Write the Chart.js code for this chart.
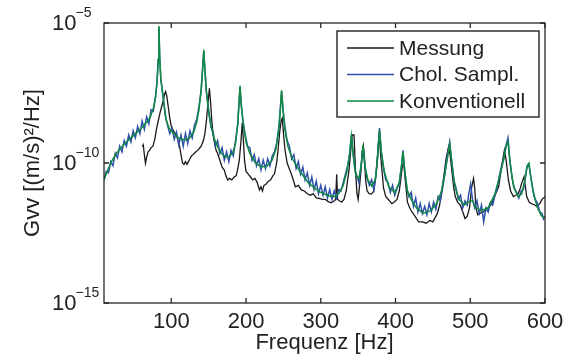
<!DOCTYPE html>
<html>
<head>
<meta charset="utf-8">
<script src="https://cdn.jsdelivr.net/npm/chart.js@4.4.1/dist/chart.umd.min.js"></script>
<style>
  html, body { margin: 0; padding: 0; background: #fff; }
  #wrap { width: 570px; height: 360px; }
</style>
</head>
<body>
<div id="wrap"><canvas id="chart-psd" width="570" height="360"></canvas></div>
<script>
var xTicks = [100, 200, 300, 400, 500, 600];
var yTickExp = [-15, -10, -5];
var seriesNames = ["Messung", "Chol. Sampl.", "Konventionell"];

// [Frequenz in Hz, log10(Gvv)]
var messung = [
  [61.3, -9.42], [62.5, -9.35], [64, -9.7], [65.5, -10.01], [67, -9.8], [69, -9.6], [71, -9.55],
  [73, -9.45], [75.5, -9.4], [78, -9.15], [80, -8.82], [82.5, -8.5], [84.8, -8.23], [87, -8.0],
  [89.3, -7.77], [91, -7.55], [92.4, -7.45], [94, -7.6], [96, -8.0], [98, -8.4], [100, -8.7],
  [104, -8.9], [107, -9.0], [109, -9.2], [111, -9.38], [113, -9.7], [115, -10.0], [117, -10.05],
  [119, -9.95], [121, -10.05], [123, -9.95], [125, -9.85], [127, -9.75], [129, -9.7], [131, -9.65],
  [133, -9.6], [135, -9.55], [137, -9.5], [140, -9.4], [143, -9.2], [145, -8.95], [147, -8.5],
  [149, -7.9], [151, -7.33], [152.5, -7.8], [154, -8.4], [156, -9.0], [158, -9.3], [160, -9.55],
  [162, -9.65], [165, -9.9], [168, -10.15], [171, -10.25], [173, -10.45], [175.6, -10.61],
  [178, -10.55], [181, -10.6], [184, -10.5], [187, -10.45], [189, -10.2], [191, -9.9], [193, -9.3],
  [195, -8.56], [196.5, -9.2], [198, -9.9], [200, -10.3], [203, -10.4], [206, -10.5], [209, -10.6],
  [212, -10.55], [215, -10.7], [218, -10.96], [220, -10.85], [222, -11.0], [224, -10.8], [227, -10.75],
  [230, -10.65], [233, -10.6], [236, -10.45], [238, -10.4], [241, -10.0], [243, -9.5], [245, -8.9],
  [247, -8.5], [248.5, -8.4], [250, -8.9], [252, -9.5], [255, -10.0], [258.6, -10.25], [262, -10.5],
  [266, -10.85], [270, -10.8], [274, -10.96], [278, -11.0], [282, -11.1], [286, -11.15], [290, -11.1],
  [294, -11.25], [298, -11.26], [302, -11.3], [306, -11.3], [310, -11.38], [314, -11.42], [318, -11.35],
  [320, -11.3], [321.3, -10.4], [322.5, -11.3], [325, -11.35], [328, -11.4], [331, -11.3], [334, -11.0],
  [336, -10.6], [338, -10.2], [340, -9.6], [342, -9.0], [344.5, -9.0], [346.5, -10.3], [348.5, -11.1],
  [350, -11.3], [352, -10.8], [354, -10.2], [355.5, -9.6], [357, -9.38], [358.5, -9.8], [360, -10.6],
  [362, -11.0], [365, -11.1], [368, -11.1], [371, -11.0], [374, -10.4], [376, -9.7], [377.7, -9.1],
  [379, -9.3], [381, -10.0], [384, -10.9], [387, -11.2], [391, -11.32], [395, -11.45], [398, -11.4],
  [402, -11.3], [405, -11.0], [407, -10.6], [409, -10.13], [411, -10.0], [413, -10.6], [416, -11.4],
  [419, -11.6], [422, -11.75], [426, -11.9], [431, -12.1], [436, -12.1], [441, -12.15], [446, -12.05],
  [450, -12.1], [453, -11.95], [456, -11.8], [459, -11.5], [462, -11.0], [465, -10.4], [468, -9.8],
  [471, -9.42], [473, -9.7], [475.5, -10.3], [478, -10.9], [480, -11.2], [483, -11.4], [486.6, -11.5],
  [490, -11.75], [493, -11.98], [496, -11.9], [499, -11.6], [502, -10.85], [504.4, -10.55], [506, -10.9],
  [507.6, -11.6], [510, -11.85], [513, -11.8], [517, -11.75], [520, -11.7], [524, -11.6], [529, -11.45],
  [534, -11.1], [538, -10.85], [541, -10.3], [544, -9.8], [545.7, -9.54], [548, -9.9], [551, -10.6],
  [554, -11.0], [557.7, -11.2], [561, -11.15], [564, -11.1], [567, -10.9], [569, -10.7], [572, -10.49],
  [574, -10.9], [575.5, -11.2], [579, -11.4], [582, -11.45], [586, -11.5], [589, -11.55], [593, -11.45],
  [596, -11.3], [600, -11.2]
];

var cholSampl = [
  [10, -10.6], [13, -10.3], [16, -10.35], [19, -9.95], [22, -10.1], [25, -9.65], [28, -9.82],
  [31, -9.4], [34, -9.6], [37, -9.2], [40, -9.4], [43, -9.0], [46, -9.25], [49, -8.85], [52, -9.1],
  [55, -8.7], [58, -8.95], [61, -8.5], [64, -8.8], [67, -8.35], [70, -8.6], [73, -8.1], [76, -8.15],
  [79, -7.6], [81, -7.1], [82.5, -6.3], [83.5, -5.15], [84.5, -6.2], [86, -7.0], [89, -7.6], [92, -8.3],
  [95, -8.65], [98, -8.95], [101, -8.75], [104, -9.15], [107, -8.9], [110, -9.35], [113, -9.0],
  [116, -9.4], [119, -8.95], [122, -9.3], [125, -8.85], [128, -9.1], [131, -8.65], [134, -8.45],
  [137, -8.0], [140, -7.4], [142, -6.6], [143.5, -6.0], [145, -6.7], [147, -7.45], [150, -8.1],
  [153, -8.7], [156, -8.9], [159, -9.4], [162, -9.2], [165, -9.65], [168, -9.45], [171, -9.9],
  [174, -9.6], [177, -9.95], [180, -9.55], [183, -9.75], [186, -9.2], [189, -8.6], [190.5, -7.9],
  [192, -7.3], [193.5, -7.9], [196, -8.5], [199, -9.0], [202, -9.4], [205, -9.45], [208, -9.9],
  [211, -9.7], [214, -10.1], [217, -9.85], [220, -10.25], [223, -9.9], [226, -10.2], [229, -9.85],
  [232, -10.1], [235, -9.75], [238, -9.6], [241, -9.3], [244, -8.7], [246, -8.0], [247.6, -7.45],
  [249.5, -8.1], [252, -8.7], [255, -9.2], [258, -9.4], [261, -9.85], [264, -9.7], [267, -10.2],
  [270, -9.95], [273, -10.4], [276, -10.15], [279, -10.6], [282, -10.35], [285, -10.8], [288, -10.5],
  [291, -10.95], [294, -10.65], [297, -11.1], [300, -10.8], [303, -11.15], [306, -10.85], [309, -11.25],
  [312, -10.95], [315, -11.3], [318, -11.0], [321, -11.25], [324, -10.95], [327, -11.0], [330, -10.7],
  [333, -10.4], [336, -10.1], [338.5, -9.7], [341, -9.0], [343.5, -9.75], [346, -10.3], [349, -10.5],
  [351, -10.7], [354, -10.1], [356.5, -9.4], [359, -10.1], [362, -10.55], [365, -10.8], [368, -10.6],
  [371, -10.95], [374, -10.4], [376, -9.8], [378.6, -8.75], [381, -9.6], [384, -10.2], [387, -10.6],
  [390, -10.7], [393, -11.05], [396, -10.8], [399, -11.15], [402, -10.9], [405, -10.75], [408, -10.1],
  [410, -9.55], [412, -10.2], [415, -10.9], [418, -11.2], [421, -11.05], [424, -11.55], [427, -11.25],
  [430, -11.75], [433, -11.45], [436, -11.8], [439, -11.55], [442, -11.85], [445, -11.45], [448, -11.75],
  [451, -11.4], [454, -11.65], [457, -11.2], [460, -11.35], [463, -10.9], [466, -10.4], [469, -9.8],
  [472.5, -9.25], [475, -9.9], [478, -10.6], [481, -10.9], [484, -11.3], [487, -11.15], [490, -11.6],
  [493, -11.35], [496, -11.5], [498, -11.1], [500.5, -10.75], [503, -11.3], [506, -11.6], [509, -11.35],
  [512, -11.8], [515, -11.5], [518, -12.1], [521, -11.6], [524, -11.75], [527, -11.4], [530, -11.5],
  [533, -11.15], [536, -10.9], [539, -10.45], [542, -10.1], [545, -9.8], [548, -9.35], [550.5, -9.1],
  [553, -9.9], [556, -10.55], [559, -10.9], [562, -11.05], [565, -11.25], [568, -11.0], [571, -10.95],
  [574, -10.5], [576, -10.15], [578.5, -10.05], [581, -10.5], [584, -11.0], [587, -11.3], [590, -11.45],
  [593, -11.75], [596, -11.8], [598, -12.0], [600, -11.9]
];

var konventionell = [
  [10, -10.61], [15, -10.25], [20, -9.95], [26, -9.68], [32, -9.47], [40, -9.25], [48, -9.06],
  [55, -8.88], [62, -8.7], [68, -8.52], [72, -8.35], [76, -8.05], [79, -7.65], [81, -7.1], [82.5, -6.3],
  [83.5, -5.11], [84.5, -6.2], [86, -7.0], [89, -7.63], [93, -8.45], [97, -8.75], [100, -8.85],
  [105, -9.0], [111, -9.12], [118, -9.18], [124, -9.12], [130, -8.9], [134, -8.55], [137, -8.1],
  [140, -7.4], [142, -6.6], [143.5, -5.96], [145, -6.7], [147, -7.45], [150, -8.2], [153, -8.65],
  [157, -9.1], [162, -9.42], [167, -9.65], [172, -9.78], [177, -9.78], [182, -9.65], [186, -9.3],
  [189, -8.6], [190.5, -7.9], [192, -7.24], [193.5, -7.9], [196, -8.55], [200, -9.25], [205, -9.65],
  [212, -9.98], [220, -10.13], [228, -10.12], [235, -9.9], [240, -9.5], [244, -8.8], [246, -8.1],
  [247.6, -7.4], [249.5, -8.1], [252, -8.8], [256, -9.4], [262, -9.85], [271, -10.25], [284, -10.73],
  [298, -11.02], [310, -11.17], [318, -11.2], [324, -11.1], [330, -10.8], [335, -10.3], [338.5, -9.7],
  [341, -9.04], [343.5, -9.7], [347, -10.45], [351, -10.55], [354, -10.1], [356.5, -9.36], [359, -10.1],
  [363, -10.6], [368, -10.82], [373, -10.6], [376, -9.8], [378.6, -8.82], [381, -9.6], [385, -10.3],
  [391, -10.85], [399, -11.05], [405, -10.7], [408, -10.1], [410, -9.6], [412, -10.2], [416, -11.0],
  [422, -11.35], [428, -11.6], [437, -11.8], [447, -11.7], [455, -11.45], [461, -11.05], [466, -10.4],
  [470, -9.75], [472.5, -9.32], [475, -9.9], [479, -10.8], [485, -11.3], [492, -11.5], [498, -11.38],
  [503, -11.35], [508, -11.6], [515, -11.7], [524, -11.6], [533, -11.1], [540, -10.4], [545, -9.85],
  [548, -9.4], [550.5, -9.24], [553, -9.95], [558, -10.85], [564, -11.2], [569, -11.1], [573, -10.6],
  [576, -10.1], [578.5, -10.01], [581, -10.5], [585, -11.15], [590, -11.6], [595, -11.88], [600, -11.95]
];

var seriesColors = ["#1a1a1a", "#2d52a8", "#0f8a40"];
var fontName = "'Liberation Sans', Arial, sans-serif";
var axisColor = "#262626";
var textColor = "#222222";

function toPoints(arr) {
  return arr.map(function (p) {
    return { x: p[0], y: Math.pow(10, p[1]) };
  });
}

// box, inward ticks, 10^x labels and legend (MATLAB look)
var framePlugin = {
  id: "frame",
  afterDraw: function (chart) {
    var c = chart.ctx;
    var a = chart.chartArea;
    var xs = chart.scales.x;
    var ys = chart.scales.y;
    c.save();
    c.strokeStyle = axisColor;
    c.lineWidth = 1.3;
    c.strokeRect(a.left, a.top, a.right - a.left, a.bottom - a.top);

    c.beginPath();
    xTicks.forEach(function (v) {
      var px = xs.getPixelForValue(v);
      c.moveTo(px, a.bottom);
      c.lineTo(px, a.bottom - 5);
      c.moveTo(px, a.top);
      c.lineTo(px, a.top + 5);
    });
    yTickExp.forEach(function (e) {
      var py = ys.getPixelForValue(Math.pow(10, e));
      c.moveTo(a.left, py);
      c.lineTo(a.left + 5, py);
      c.moveTo(a.right, py);
      c.lineTo(a.right - 5, py);
    });
    c.stroke();

    c.fillStyle = textColor;
    c.textBaseline = "middle";
    c.textAlign = "left";
    yTickExp.forEach(function (e) {
      var py = ys.getPixelForValue(Math.pow(10, e));
      c.font = "22px " + fontName;
      c.fillText("10", 52, py + 1);
      var w = c.measureText("10").width;
      c.font = "14px " + fontName;
      c.fillText("\u2212" + Math.abs(e), 52 + w - 1, py - 10);
    });

    // legend
    var lx = 337, ly = 31, lw = 202, lh = 86;
    c.fillStyle = "#ffffff";
    c.fillRect(lx, ly, lw, lh);
    c.strokeStyle = "#111111";
    c.lineWidth = 1.3;
    c.strokeRect(lx, ly, lw, lh);
    chart.data.datasets.forEach(function (ds, i) {
      var ry = 48 + i * 26.5;
      c.strokeStyle = ds.borderColor;
      c.lineWidth = 1.5;
      c.beginPath();
      c.moveTo(347, ry);
      c.lineTo(394, ry);
      c.stroke();
      c.fillStyle = textColor;
      c.font = "21px " + fontName;
      c.fillText(ds.label, 399, ry + 1);
    });
    c.restore();
  }
};

var ctx = document.getElementById("chart-psd").getContext("2d");

new Chart(ctx, {
  type: "line",
  data: {
    datasets: [
      {
        label: seriesNames[0],
        data: toPoints(messung),
        borderColor: seriesColors[0],
        borderWidth: 1.3,
        pointRadius: 0,
        tension: 0,
        order: 2,
      },
      {
        label: seriesNames[1],
        data: toPoints(cholSampl),
        borderColor: seriesColors[1],
        borderWidth: 1.5,
        pointRadius: 0,
        tension: 0,
        order: 1,
      },
      {
        label: seriesNames[2],
        data: toPoints(konventionell),
        borderColor: seriesColors[2],
        borderWidth: 1.5,
        pointRadius: 0,
        tension: 0,
        order: 0,
      },
    ],
  },
  options: {
    responsive: false,
    animation: false,
    layout: {
      padding: { top: 23, right: 25, left: 0, bottom: 0 },
    },
    plugins: {
      legend: { display: false },
      tooltip: { enabled: false },
    },
    scales: {
      x: {
        type: "linear",
        min: 10,
        max: 600,
        afterBuildTicks: function (scale) {
          scale.ticks = xTicks.map(function (v) { return { value: v }; });
        },
        afterFit: function (scale) {
          scale.height = 57;
        },
        grid: { display: false, drawTicks: false },
        border: { display: false },
        ticks: {
          color: textColor,
          padding: 6,
          maxRotation: 0,
          autoSkip: false,
          font: { size: 22, family: fontName },
        },
        title: {
          display: true,
          text: "Frequenz [Hz]",
          color: textColor,
          font: { size: 22, family: fontName },
          padding: { top: 0, bottom: 4 },
        },
      },
      y: {
        type: "logarithmic",
        min: 1e-15,
        max: 1e-5,
        afterBuildTicks: function (scale) {
          scale.ticks = yTickExp.map(function (e) { return { value: Math.pow(10, e) }; });
        },
        afterFit: function (scale) {
          scale.width = 104;
        },
        grid: { display: false, drawTicks: false },
        border: { display: false },
        ticks: { display: false },
        title: {
          display: true,
          text: "Gvv [(m/s)\u00b2/Hz]",
          color: textColor,
          font: { size: 22, family: fontName },
          padding: { top: 20, bottom: 0 },
        },
      },
    },
  },
  plugins: [framePlugin],
});
</script>
</body>
</html>
